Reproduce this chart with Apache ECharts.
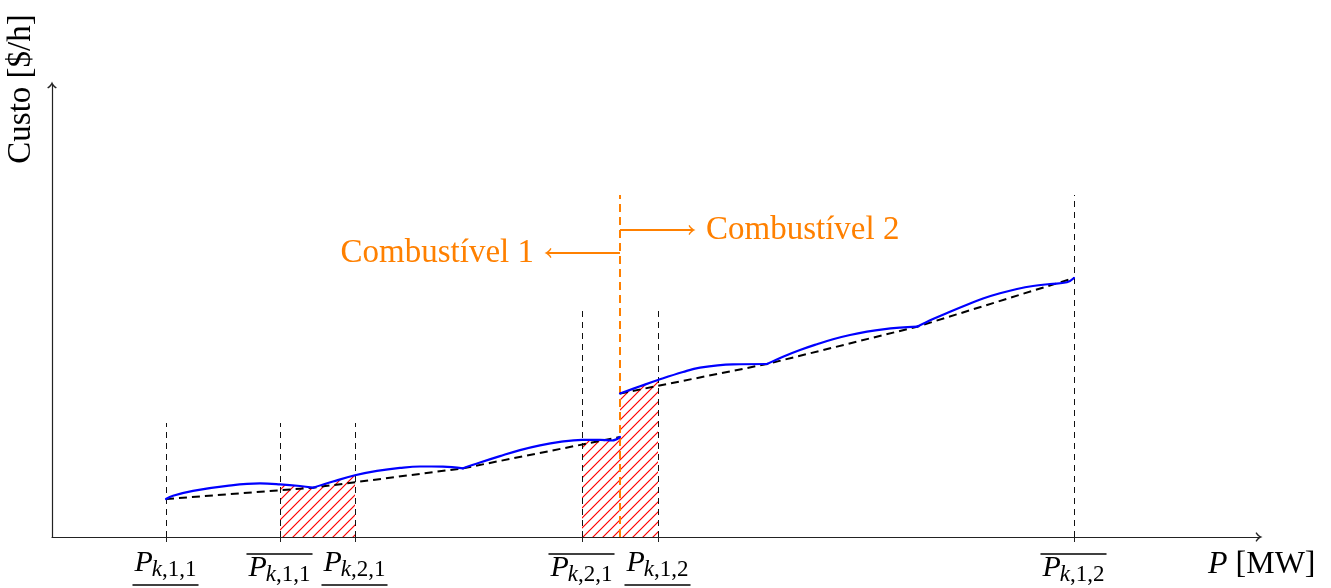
<!DOCTYPE html>
<html>
<head>
<meta charset="utf-8">
<script src="https://cdn.jsdelivr.net/npm/echarts@6/dist/echarts.min.js"></script>
<style>
  html, body { margin: 0; padding: 0; background: #fff; }
  #chart { width: 1331px; height: 588px; }
</style>
</head>
<body>
<div id="chart"></div>
<script>
// Cost curve with valve-point effect, one array per hump (P, cost)
const humpA = [[11.4, 3.8], [12.1, 4.13], [14.1, 4.62], [17.5, 5.12], [20.8, 5.36], [22.8, 5.27], [24.8, 5.1], [26.1, 4.93]];
const humpB = [[26.1, 4.93], [28.1, 5.55], [30.3, 6.17], [32.5, 6.61], [34.8, 6.91], [36.8, 7.05], [39.1, 7.04], [41.1, 6.87]];
const humpC = [[41.1, 6.87], [42.8, 7.45], [44.8, 8.09], [46.8, 8.69], [48.8, 9.17], [50.8, 9.51], [53.0, 9.71], [54.8, 9.72], [56.0, 9.65], [56.8, 10.0]];
const humpD = [[56.8, 14.35], [58.8, 15.07], [60.6, 15.7], [63.1, 16.5], [64.8, 16.93], [68.1, 17.26], [71.5, 17.3]];
const humpE = [[71.5, 17.3], [73.1, 18.03], [74.8, 18.7], [76.5, 19.28], [78.1, 19.78], [79.8, 20.2], [81.5, 20.53], [83.1, 20.77], [84.8, 20.93], [86.5, 21.03]];
const humpF = [[86.5, 21.03], [88.1, 21.8], [89.8, 22.53], [91.5, 23.23], [93.1, 23.85], [94.8, 24.37], [96.5, 24.8], [98.1, 25.1], [99.8, 25.3], [101.5, 25.47], [102.2, 25.9]];

// Straight chords joining the valve points of each fuel
const chordFuel1 = [[11.4, 3.8], [26.1, 4.93], [41.1, 6.87], [56.8, 10.0]];
const chordFuel2 = [[56.8, 14.35], [71.5, 17.3], [86.5, 21.03], [102.2, 25.9]];

// Operating-zone limits on the P axis and the height of their guide lines
const boundsP = [11.4, 22.8, 30.3, 53.0, 60.6, 102.2];
const boundsTop = [11.4, 11.4, 11.4, 22.7, 22.7, 34.2];
const boundsSub = ['1,1', '1,1', '2,1', '2,1', '1,2', '1,2'];
const boundsBar = ['under', 'over', 'under', 'over', 'under', 'over'];

// Prohibited operating zones (hatched)
const forbiddenZones = [[22.8, 30.3], [53.0, 60.6]];

// Fuel switch point and the two arrows that label each side
const fuelSwitchP = 56.8;
const fuelSwitchTop = 34.2;
const fuelLabels = ['Combustível 1', 'Combustível 2'];
const fuelArrowFrom = [[56.8, 28.4], [56.8, 30.7]];
const fuelArrowTo = [[49.6, 28.4], [64.0, 30.7]];

const FONT = '"Liberation Serif", "Times New Roman", serif';
const ORANGE = '#ff8000';
const ARROW = 'path://M5 0C5.8 2.6 7.6 4.8 10 6.2L9.2 7.4C7.2 6.2 5.8 4.8 5 3.4C4.2 4.8 2.8 6.2 0.8 7.4L0 6.2C2.4 4.8 4.2 2.6 5 0Z';

function hatchPattern() {
  const c = document.createElement('canvas');
  c.width = 10; c.height = 10;
  const g = c.getContext('2d');
  g.strokeStyle = '#ff0000';
  g.lineWidth = 1.2;
  g.beginPath();
  g.moveTo(-2, 12); g.lineTo(12, -2);
  g.moveTo(-7, 7); g.lineTo(7, -7);
  g.moveTo(3, 17); g.lineTo(17, 3);
  g.stroke();
  return c;
}
const hatch = { image: hatchPattern(), repeat: 'repeat' };

const fuels = [[humpA, humpB, humpC], [humpD, humpE, humpF]];
const hatchSeries = [];
forbiddenZones.forEach(zone => {
  fuels.forEach(chain => {
    const pts = [].concat(...chain).filter(p => p[0] >= zone[0] && p[0] <= zone[1]);
    if (pts.length >= 2) {
      hatchSeries.push({
        type: 'line', data: pts, symbol: 'none', silent: true, z: 2,
        lineStyle: { width: 0, opacity: 0 },
        areaStyle: { color: hatch, opacity: 1 }
      });
    }
  });
});

const curveSeries = [humpA, humpB, humpC, humpD, humpE, humpF].map(h => ({
  type: 'line', data: h, smooth: 0.4, symbol: 'none', silent: true, z: 5,
  lineStyle: { color: '#0000ff', width: 2.2, cap: 'round', join: 'round' }
}));

const guideLines = boundsP.map((p, i) => [
  { coord: [p, 0], symbol: 'none', lineStyle: { color: '#111', width: 1, type: [6, 5] } },
  { coord: [p, boundsTop[i]], symbol: 'none' }
]);
guideLines.push([
  { coord: [fuelSwitchP, 0], symbol: 'none', lineStyle: { color: ORANGE, width: 2, type: [8, 5] } },
  { coord: [fuelSwitchP, fuelSwitchTop], symbol: 'none' }
]);
fuelLabels.forEach((name, i) => {
  guideLines.push([
    {
      coord: fuelArrowFrom[i], symbol: 'none',
      lineStyle: { color: ORANGE, width: 1.8, type: 'solid' },
      label: {
        show: true, position: 'end', distance: 14, formatter: name,
        color: ORANGE, fontFamily: FONT, fontSize: 33, padding: [4, 0, 0, 0]
      }
    },
    { coord: fuelArrowTo[i], symbol: ARROW, symbolSize: [10, 7] }
  ]);
});

const chordSeries = [chordFuel1, chordFuel2].map((c, i) => ({
  type: 'line', data: c, symbol: 'none', silent: true, z: 4,
  lineStyle: { color: '#000', width: 2, type: [8, 5] },
  markLine: i === 0 ? {
    silent: true, animation: false, symbol: ['none', 'none'],
    label: { show: false }, z: 3,
    data: guideLines
  } : undefined
}));

const chart = echarts.init(document.getElementById('chart'));
chart.setOption({
  animation: false,
  backgroundColor: '#fff',
  grid: { left: 52, right: 72, top: 85, bottom: 51, containLabel: false, outerBoundsMode: 'none' },
  xAxis: {
    type: 'value', min: 0, max: 120.7,
    name: '{i|P} [MW]', nameLocation: 'end', nameGap: -51,
    nameTextStyle: {
      fontFamily: FONT, fontSize: 32, color: '#000', align: 'left', verticalAlign: 'top',
      padding: [12, 0, 0, 0],
      rich: { i: { fontFamily: FONT, fontSize: 32, fontStyle: 'italic', color: '#000' } }
    },
    axisLine: { show: true, symbol: ['none', ARROW], symbolSize: [10, 7], lineStyle: { color: '#222', width: 1.2 } },
    axisTick: { show: true, customValues: boundsP, length: 5, lineStyle: { color: '#222', width: 1 } },
    axisLabel: { show: false },
    splitLine: { show: false }
  },
  yAxis: {
    type: 'value', min: 0, max: 45.2,
    name: 'Custo [$/h]', nameLocation: 'end', nameGap: -4, nameRotate: 90,
    nameTextStyle: {
      fontFamily: FONT, fontSize: 33, color: '#000', align: 'center', verticalAlign: 'bottom',
      padding: [0, 0, 14, 0]
    },
    axisLine: { show: true, symbol: ['none', ARROW], symbolSize: [10, 7], lineStyle: { color: '#222', width: 1.2 } },
    axisTick: { show: false },
    axisLabel: { show: false },
    splitLine: { show: false }
  },
  series: [...hatchSeries, ...chordSeries, ...curveSeries]
});

// Tick labels: P with subscript, underlined for lower limits, overlined for upper limits
const ctx = document.createElement('canvas').getContext('2d');
function textWidth(t, font) { ctx.font = font; return ctx.measureText(t).width; }
const P_SIZE = 30, SUB_SIZE = 23, MID = 0.3375;
const fontP = 'italic ' + P_SIZE + 'px ' + FONT;
const fontK = 'italic ' + SUB_SIZE + 'px ' + FONT;
const fontR = SUB_SIZE + 'px ' + FONT;

const labelGraphics = boundsP.map((p, i) => {
  const at = chart.convertToPixel({ gridIndex: 0 }, [p, 0]);
  const under = boundsBar[i] === 'under';
  const rest = ',' + boundsSub[i];
  const wP = textWidth('P', fontP);
  const wSub = textWidth('k', fontK) + textWidth(rest, fontR);
  const w = wP + wSub;
  const left = -w / 2;
  const pBase = under ? 36 : 41;
  const subBase = pBase + 5;
  const barY = under ? 48 : 17;
  return {
    type: 'group', x: at[0], y: at[1], silent: true,
    children: [
      { type: 'text', style: { text: 'P', x: left, y: pBase - MID * P_SIZE, font: fontP, fill: '#000', align: 'left', verticalAlign: 'middle' } },
      {
        type: 'text',
        style: {
          text: '{k|k}{r|' + rest + '}', x: left + wP - 1, y: subBase - MID * SUB_SIZE,
          align: 'left', verticalAlign: 'middle', fill: '#000',
          rich: {
            k: { fontFamily: FONT, fontSize: SUB_SIZE, fontStyle: 'italic', fill: '#000' },
            r: { fontFamily: FONT, fontSize: SUB_SIZE, fill: '#000' }
          }
        }
      },
      { type: 'line', shape: { x1: left - 2, y1: barY, x2: left + w + 1, y2: barY }, style: { stroke: '#000', lineWidth: 1.3 } }
    ]
  };
});
chart.setOption({ graphic: labelGraphics });
</script>
</body>
</html>
